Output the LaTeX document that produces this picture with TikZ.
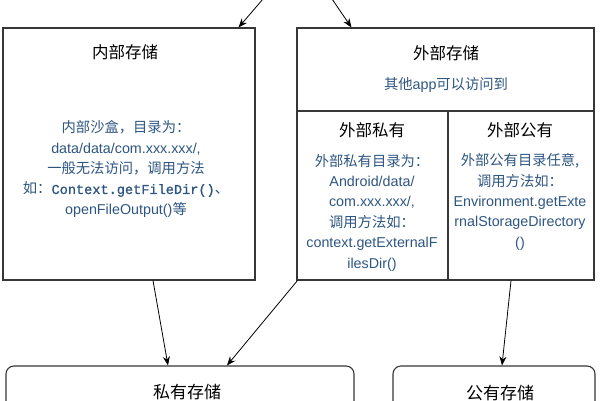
\documentclass[tikz,border=0pt]{standalone}
\usepackage{fontspec}
\setmainfont{Liberation Sans}
\setmonofont{Liberation Mono}
\newfontfamily\cjk{Noto Sans CJK SC}
\newfontfamily\monomed[FakeBold=1.2]{Liberation Mono}
\usetikzlibrary{arrows.meta}
\definecolor{txtblue}{RGB}{46,86,130}
\definecolor{edge}{RGB}{55,55,55}
\tikzset{
  box/.style={draw=edge, line width=1.1pt, inner sep=0pt, fill=white},
  rbox/.style={box, rounded corners=8pt},
  title/.style={font=\cjk\fontsize{16.5}{20}\selectfont, text=black, inner sep=0pt},
  body/.style={font=\fontsize{14.3}{20.4}\selectfont, text=txtblue, align=center, inner sep=0pt},
  arr/.style={draw=black, line width=0.8pt, -{Stealth[length=9pt,width=7pt]}}
}
\begin{document}
\begin{tikzpicture}[x=1pt,y=-1pt]
\clip (0,0) rectangle (600,400);
\fill[white] (0,0) rectangle (600,400);
% boxes
\node[box, minimum width=252pt, minimum height=252pt] (inner) at (129,154) {};
\node[box, minimum width=297pt, minimum height=252pt] (ext) at (445.5,154) {};
\node[box, minimum width=151pt, minimum height=169pt] (priv) at (372.5,195.5) {};
\node[box, minimum width=146pt, minimum height=169pt] (pub) at (521,195.5) {};
\node[rbox, minimum width=348pt, minimum height=80pt] (privst) at (180,406) {};
\node[rbox, minimum width=202pt, minimum height=80pt] (pubst) at (494,406) {};
% texts
\node[title] (t1) at (125,52) {内部存储};
\node[body] (b1) at (126,169) {{\cjk 内部沙盒，目录为：}\\
data/data/com.xxx.xxx/,\\
{\cjk 一般无法访问，调用方法}\\
{\cjk 如：}{\monomed\fontsize{13.6}{20.4}\selectfont Context.getFileDir()}{\cjk 、}\\
openFileOutput(){\cjk 等}};
\node[title] (t2) at (446,53) {外部存储};
\node[body] (b2) at (446,85) {{\cjk 其他}app{\cjk 可以访问到}};
\node[title] (t3) at (372,130) {外部私有};
\node[title] (t4) at (520,130) {外部公有};
\node[body] (b3) at (372,212.5) {{\cjk 外部私有目录为：}\\
Android/data/\\
com.xxx.xxx/,\\
{\cjk 调用方法如：}\\
context.getExternalF\\
ilesDir()};
\node[body] (b4) at (520,202) {{\cjk 外部公有目录任意,}\\
{\cjk 调用方法如：}\\
Environment.getExte\\
rnalStorageDirectory\\
()};
\node[title, font=\cjk\fontsize{17}{20}\selectfont] (t5) at (187,392) {私有存储};
\node[title, font=\cjk\fontsize{17}{20}\selectfont] (t6) at (500,393) {公有存储};
% arrows
\coordinate (top1) at (263,-1);
\coordinate (top2) at (332,-1);
\draw[arr] (top1) -- ([xshift=-17pt]inner.north east);
\draw[arr] (top2) -- ([xshift=55pt]ext.north west);
\draw[arr] ([xshift=24pt]inner.south) -- ([xshift=-12pt]privst.north);
\draw[arr] ([xshift=1pt]priv.south west) -- ([xshift=47pt]privst.north);
\draw[arr] ([xshift=-10pt]pub.south) -- ([xshift=8pt]pubst.north);
\end{tikzpicture}
\end{document}
